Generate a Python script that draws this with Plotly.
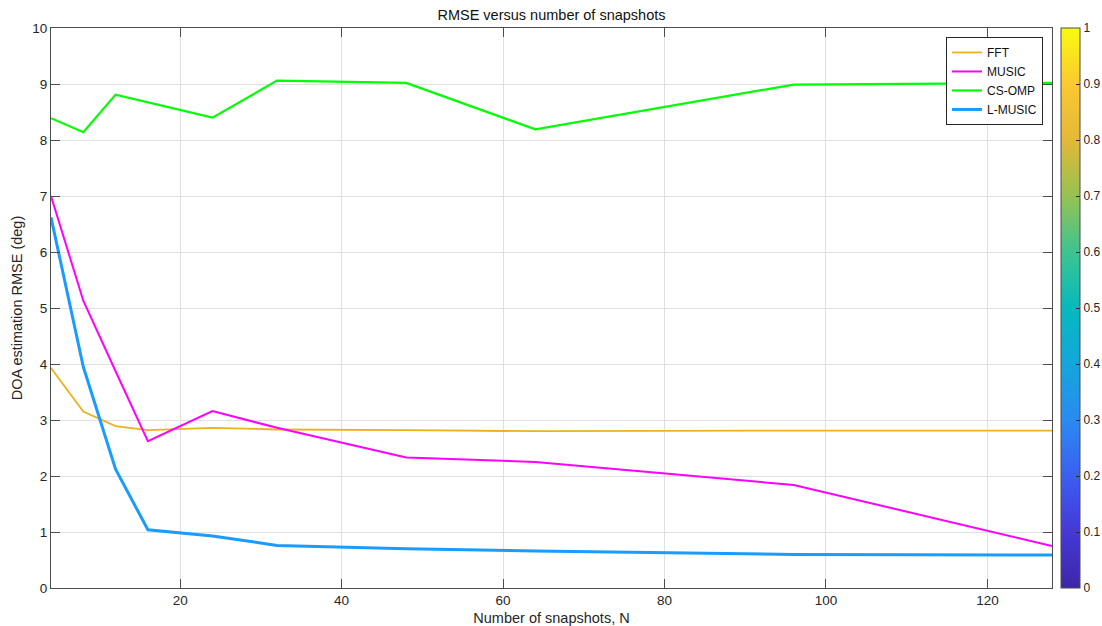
import plotly.graph_objects as go

# ---- data ----
snapshots = [4, 8, 12, 16, 24, 32, 48, 64, 96, 128]
rmse_fft = [3.93, 3.15, 2.89, 2.82, 2.86, 2.83, 2.82, 2.80, 2.81, 2.81]
rmse_music = [7.00, 5.13, 3.87, 2.62, 3.16, 2.86, 2.33, 2.25, 1.84, 0.75]
rmse_csomp = [8.39, 8.14, 8.81, 8.67, 8.40, 9.06, 9.02, 8.19, 8.99, 9.02]
rmse_lmusic = [6.62, 3.95, 2.12, 1.04, 0.93, 0.76, 0.70, 0.66, 0.60, 0.59]

series_names = ["FFT", "MUSIC", "CS-OMP", "L-MUSIC"]
series_values = [rmse_fft, rmse_music, rmse_csomp, rmse_lmusic]
series_colors = ["#EDB120", "#FF00FF", "#00FF00", "#1A9CFF"]
series_widths = [1.8, 2.0, 2.2, 3.0]

x_ticks = [20, 40, 60, 80, 100, 120]
y_ticks = [0, 1, 2, 3, 4, 5, 6, 7, 8, 9, 10]
cbar_ticks = [0, 0.1, 0.2, 0.3, 0.4, 0.5, 0.6, 0.7, 0.8, 0.9, 1]
cbar_labels = ["0", "0.1", "0.2", "0.3", "0.4", "0.5", "0.6", "0.7", "0.8", "0.9", "1"]

parula = [
    [0.0, "#3E26A8"], [0.1, "#4538D6"], [0.2, "#3B5FF0"], [0.3, "#2A8BF0"],
    [0.4, "#14A6DC"], [0.5, "#06B9BE"], [0.6, "#3DC491"], [0.7, "#96C252"],
    [0.8, "#E3B838"], [0.9, "#FBC930"], [1.0, "#F9FB0E"],
]

FONT = "Arial, 'Liberation Sans', Helvetica, sans-serif"
TXT = "#262626"
AX = "#4d4d4d"
GRID = "#e0e0e0"

fig = go.Figure()
for name, vals, col, w in zip(series_names, series_values, series_colors, series_widths):
    fig.add_trace(go.Scatter(x=snapshots, y=vals, mode="lines", name=name,
                             line=dict(color=col, width=w)))

# dummy trace that only carries the colorbar
fig.add_trace(go.Scatter(
    x=[None], y=[None], mode="markers", showlegend=False, hoverinfo="skip",
    marker=dict(color=[0], colorscale=parula, cmin=0, cmax=1, showscale=True,
                colorbar=dict(x=1.009, xanchor="left", y=0.5, yanchor="middle",
                              len=1.0, lenmode="fraction", thickness=19,
                              xpad=0, ypad=0, outlinecolor=AX, outlinewidth=1,
                              ticks="inside", ticklen=4, tickcolor=TXT,
                              tickvals=cbar_ticks, ticktext=cbar_labels,
                              tickfont=dict(family=FONT, size=12, color=TXT))),
))

fig.update_layout(
    width=1102, height=626,
    margin=dict(l=51, r=50, t=28, b=38, autoexpand=False),
    paper_bgcolor="white", plot_bgcolor="white",
    font=dict(family=FONT, color=TXT),
    title=dict(text="RMSE versus number of snapshots", x=0.5, xref="paper",
               xanchor="center", y=1, yref="paper", yanchor="bottom",
               pad=dict(b=8), font=dict(size=14.5, color="#111")),
    legend=dict(x=0.991, xanchor="right", y=0.984, yanchor="top",
                bgcolor="white", bordercolor=TXT, borderwidth=1,
                font=dict(family=FONT, size=12, color="#111"),
                tracegroupgap=0),
)
fig.update_xaxes(range=[4, 128], tickvals=x_ticks, showgrid=True, gridcolor=GRID,
                 gridwidth=1, zeroline=False, showline=True, linecolor=AX, linewidth=1,
                 mirror="ticks", ticks="inside", ticklen=9, tickcolor=AX,
                 tickfont=dict(size=13.5, color=TXT), automargin=False,
                 title=dict(text="Number of snapshots, N", standoff=6,
                            font=dict(size=14.5, color=TXT)))
fig.update_yaxes(range=[0, 10], tickvals=y_ticks, showgrid=True, gridcolor=GRID,
                 gridwidth=1, zeroline=False, showline=True, linecolor=AX, linewidth=1,
                 mirror="ticks", ticks="inside", ticklen=9, tickcolor=AX,
                 tickfont=dict(size=13.5, color=TXT), automargin=False,
                 title=dict(text="DOA estimation RMSE (deg)", standoff=6,
                            font=dict(size=14.5, color=TXT)))

fig.write_html("out.html")
